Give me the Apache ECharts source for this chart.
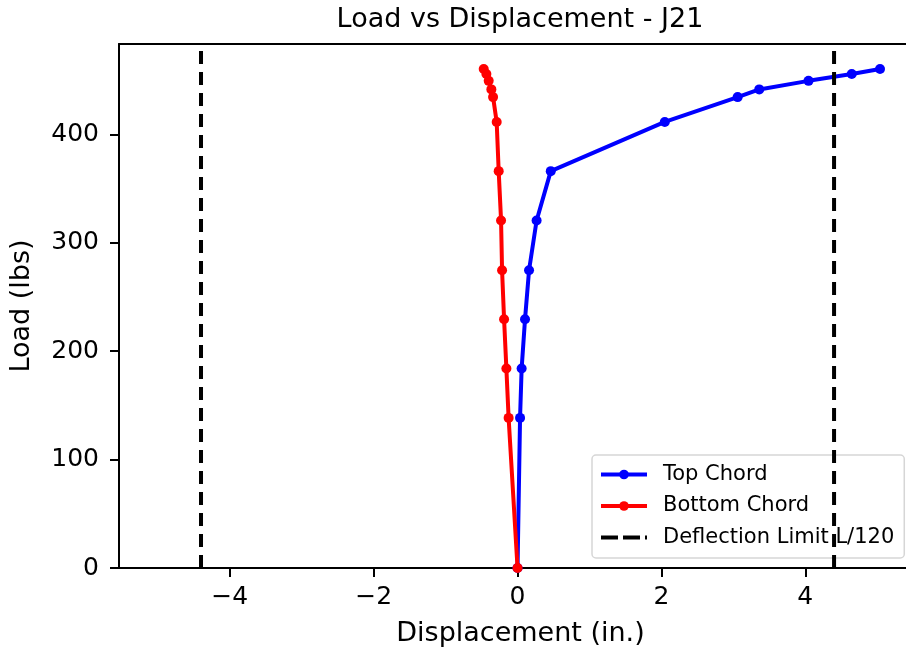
<!DOCTYPE html>
<html>
<head>
<meta charset="utf-8">
<title>Load vs Displacement - J21</title>
<script src="https://cdn.jsdelivr.net/npm/echarts@6/dist/echarts.min.js"></script>
<style>
  html, body { margin: 0; padding: 0; background: #ffffff; }
  #chart { width: 906px; height: 653px; }
</style>
</head>
<body>
<div id="chart"></div>
<script>
// Applied load at each reading (lbs)
const loadLbs = [0, 138.5, 184, 229.5, 274.7, 320.7, 366.2, 411.6, 434.5, 441.6, 449.5, 455.8, 460.5];
// Measured displacement of the top chord (in.)
const topChordIn = [0, 0.035, 0.057, 0.104, 0.16, 0.265, 0.462, 2.047, 3.06, 3.36, 4.045, 4.646, 5.039];
// Measured displacement of the bottom chord (in.)
const bottomChordIn = [0, -0.124, -0.155, -0.187, -0.215, -0.229, -0.262, -0.29, -0.34, -0.364, -0.401, -0.433, -0.47];
// Deflection limit L/120 on either side (in.)
const limitIn = [-4.4, 4.4];
// Axis ranges and tick labels
const xRange = [-5.54, 5.40];
const yRange = [0, 483.5];
const xTicks = [-4, -2, 0, 2, 4];
const yTicks = [0, 100, 200, 300, 400];

const FONT = 'DejaVu Sans';
const LIMIT_NAME = 'Deflection Limit L/120';
const pairs = (xs, ys) => xs.map((x, i) => [x, ys[i]]);
const fmtNum = v => (v < 0 ? '\u2212' + Math.abs(v) : String(v));
const spine = { show: true, onZero: false, lineStyle: { color: '#000000', width: 2 } };

const limitSeries = limitIn.map(x => ({
  name: LIMIT_NAME,
  type: 'line',
  data: [[x, yRange[0]], [x, yRange[1]]],
  symbol: 'none',
  lineStyle: { color: '#000000', width: 4, type: [13, 8] },
  itemStyle: { color: '#000000' },
  z: 4,
  silent: true
}));

const chart = echarts.init(document.getElementById('chart'), null, { renderer: 'canvas' });
chart.setOption({
  animation: false,
  backgroundColor: '#ffffff',
  textStyle: { fontFamily: FONT },
  title: {
    text: 'Load vs Displacement - J21',
    left: 515,
    top: 1,
    textAlign: 'center',
    textStyle: { fontFamily: FONT, fontSize: 27, fontWeight: 'normal', color: '#000000' }
  },
  grid: { left: 118, top: 44, right: 0, bottom: 85, show: false },
  legend: {
    orient: 'vertical',
    left: 592,
    top: 455,
    padding: [9, 10, 10, 7],
    itemWidth: 46,
    itemHeight: 12,
    itemGap: 10.5,
    backgroundColor: 'rgba(255,255,255,0.8)',
    borderColor: 'rgba(204,204,204,0.8)',
    borderWidth: 1.5,
    borderRadius: 4,
    textStyle: { fontFamily: FONT, fontSize: 21, color: '#000000', lineHeight: 21, padding: [0, 0, 0, 11] },
    data: [
      { name: 'Top Chord', lineStyle: { width: 4 } },
      { name: 'Bottom Chord', lineStyle: { width: 4 } },
      { name: LIMIT_NAME, lineStyle: { width: 4, type: [17, 5] }, itemStyle: { opacity: 0 } }
    ]
  },
  xAxis: [
    {
      type: 'value',
      position: 'bottom',
      min: xRange[0],
      max: xRange[1],
      name: 'Displacement (in.)',
      nameLocation: 'middle',
      nameGap: 52,
      nameTextStyle: { fontFamily: FONT, fontSize: 27, color: '#000000', padding: [0, 0, 0, 16] },
      axisLine: spine,
      axisTick: { show: true, length: 9, lineStyle: { color: '#000000', width: 2 }, customValues: xTicks },
      axisLabel: { fontFamily: FONT, fontSize: 25, color: '#000000', margin: 17, customValues: xTicks, formatter: fmtNum },
      splitLine: { show: false }
    },
    {
      // top frame line
      type: 'value',
      position: 'top',
      min: xRange[0],
      max: xRange[1],
      axisLine: spine,
      axisTick: { show: false },
      axisLabel: { show: false },
      splitLine: { show: false }
    }
  ],
  yAxis: {
    type: 'value',
    min: yRange[0],
    max: yRange[1],
    name: 'Load (lbs)',
    nameLocation: 'middle',
    nameGap: 84,
    nameTextStyle: { fontFamily: FONT, fontSize: 27, color: '#000000' },
    axisLine: spine,
    axisTick: { show: true, length: 9, lineStyle: { color: '#000000', width: 2 }, customValues: yTicks },
    axisLabel: { fontFamily: FONT, fontSize: 25, color: '#000000', margin: 20, customValues: yTicks, formatter: fmtNum },
    splitLine: { show: false }
  },
  series: [
    {
      name: 'Top Chord',
      type: 'line',
      data: pairs(topChordIn, loadLbs),
      symbol: 'circle',
      symbolSize: 10,
      lineStyle: { color: '#0000ff', width: 4 },
      itemStyle: { color: '#0000ff' },
      z: 2
    },
    {
      name: 'Bottom Chord',
      type: 'line',
      data: pairs(bottomChordIn, loadLbs),
      symbol: 'circle',
      symbolSize: 10,
      lineStyle: { color: '#ff0000', width: 4 },
      itemStyle: { color: '#ff0000' },
      z: 3
    },
    ...limitSeries
  ]
});
</script>
</body>
</html>
